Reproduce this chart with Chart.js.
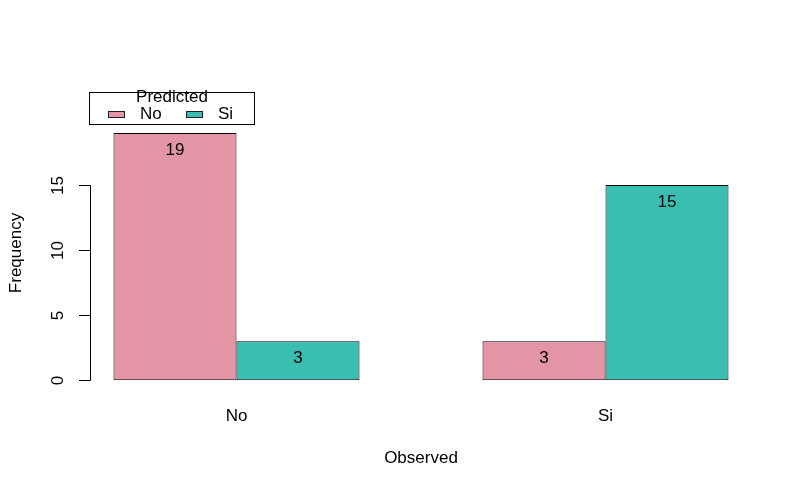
<!DOCTYPE html>
<html>
<head>
<meta charset="utf-8">
<script src="https://cdn.jsdelivr.net/npm/chart.js@4/dist/chart.umd.min.js"></script>
<style>
  body { margin: 0; background: #fff; }
  #wrap { width: 799px; height: 494px; }
</style>
</head>
<body>
<div id="wrap"><canvas id="freqChart"></canvas></div>
<script>
// observed classes on the x axis, predicted classes as the two series
const categories = ['No', 'Si'];
const predictedNames = ['No', 'Si'];
const predictedNo = [19, 3];
const predictedSi = [3, 15];
const yTicks = [0, 5, 10, 15];
const barColors = ['#E495A5', '#39BEB1'];

const FONT = '17px "Liberation Sans", Arial, sans-serif';

// R-style left axis: line only spans the tick range, labels rotated
const rAxis = {
    id: 'rAxis',
    afterDraw(chart) {
        const ctx = chart.ctx;
        const y = chart.scales.y;
        const ax = 90;
        ctx.save();
        ctx.strokeStyle = '#000';
        ctx.lineWidth = 1;
        ctx.fillStyle = '#000';
        ctx.font = FONT;
        ctx.beginPath();
        ctx.moveTo(ax + 0.5, Math.round(y.getPixelForValue(yTicks[0])) + 0.5);
        ctx.lineTo(ax + 0.5, Math.round(y.getPixelForValue(yTicks[yTicks.length - 1])) + 0.5);
        ctx.stroke();
        yTicks.forEach(v => {
            const py = Math.round(y.getPixelForValue(v)) + 0.5;
            ctx.beginPath();
            ctx.moveTo(ax + 0.5, py);
            ctx.lineTo(ax - 11, py);
            ctx.stroke();
            ctx.save();
            ctx.translate(58, py);
            ctx.rotate(-Math.PI / 2);
            ctx.textAlign = 'center';
            ctx.textBaseline = 'middle';
            ctx.fillText(String(v), 0, 0);
            ctx.restore();
        });
        // axis title
        ctx.save();
        ctx.translate(16, 253);
        ctx.rotate(-Math.PI / 2);
        ctx.textAlign = 'center';
        ctx.textBaseline = 'middle';
        ctx.fillText('Frequency', 0, 0);
        ctx.restore();
        ctx.restore();
    }
};

// counts written just inside the top of each bar
const barLabels = {
    id: 'barLabels',
    afterDatasetsDraw(chart) {
        const ctx = chart.ctx;
        ctx.save();
        ctx.font = FONT;
        ctx.fillStyle = '#000';
        ctx.textAlign = 'center';
        ctx.textBaseline = 'middle';
        chart.data.datasets.forEach((ds, i) => {
            chart.getDatasetMeta(i).data.forEach((bar, j) => {
                ctx.fillText(String(ds.data[j]), bar.x, bar.y + 17);
            });
        });
        ctx.restore();
    }
};

// boxed legend with title, as base R legend()
const boxLegend = {
    id: 'boxLegend',
    afterDraw(chart) {
        const ctx = chart.ctx;
        ctx.save();
        ctx.strokeStyle = '#000';
        ctx.lineWidth = 1;
        ctx.fillStyle = '#fff';
        ctx.fillRect(89.5, 92.5, 165, 32);
        ctx.strokeRect(89.5, 92.5, 165, 32);
        ctx.font = FONT;
        ctx.fillStyle = '#000';
        ctx.textAlign = 'center';
        ctx.textBaseline = 'middle';
        ctx.fillText('Predicted', 172, 97);
        const swatchX = [108, 186];
        const textX = [140, 218];
        chart.data.datasets.forEach((ds, i) => {
            ctx.fillStyle = ds.backgroundColor;
            ctx.fillRect(swatchX[i] + 0.5, 111.5, 16, 6);
            ctx.strokeStyle = '#222';
            ctx.strokeRect(swatchX[i] + 0.5, 111.5, 16, 6);
            ctx.fillStyle = '#000';
            ctx.textAlign = 'left';
            ctx.fillText(ds.label, textX[i], 114);
        });
        ctx.restore();
    }
};

const ctx = document.getElementById('freqChart').getContext('2d');
const chart = new Chart(ctx, {
    type: 'bar',
    data: {
        labels: categories,
        datasets: [{
            label: predictedNames[0],
            data: predictedNo,
            backgroundColor: barColors[0],
            borderColor: '#000',
            borderWidth: 1,
            borderSkipped: false
        }, {
            label: predictedNames[1],
            data: predictedSi,
            backgroundColor: barColors[1],
            borderColor: '#000',
            borderWidth: 1,
            borderSkipped: false
        }]
    },
    options: {
        responsive: true,
        maintainAspectRatio: false,
        animation: false,
        categoryPercentage: 2 / 3,
        barPercentage: 1,
        layout: {
            padding: { left: 52, right: 9, top: 120, bottom: 0 }
        },
        scales: {
            x: {
                grid: { display: false, drawTicks: false },
                border: { display: false },
                ticks: {
                    color: '#000',
                    font: { family: '"Liberation Sans", Arial, sans-serif', size: 17 },
                    padding: 26
                },
                title: {
                    display: true,
                    text: 'Observed',
                    color: '#000',
                    font: { family: '"Liberation Sans", Arial, sans-serif', size: 17 },
                    padding: { top: -4, bottom: 25 }
                }
            },
            y: {
                display: false,
                min: 0,
                max: 20
            }
        },
        plugins: {
            legend: { display: false },
            tooltip: { enabled: false }
        }
    },
    plugins: [rAxis, barLabels, boxLegend]
});
</script>
</body>
</html>
